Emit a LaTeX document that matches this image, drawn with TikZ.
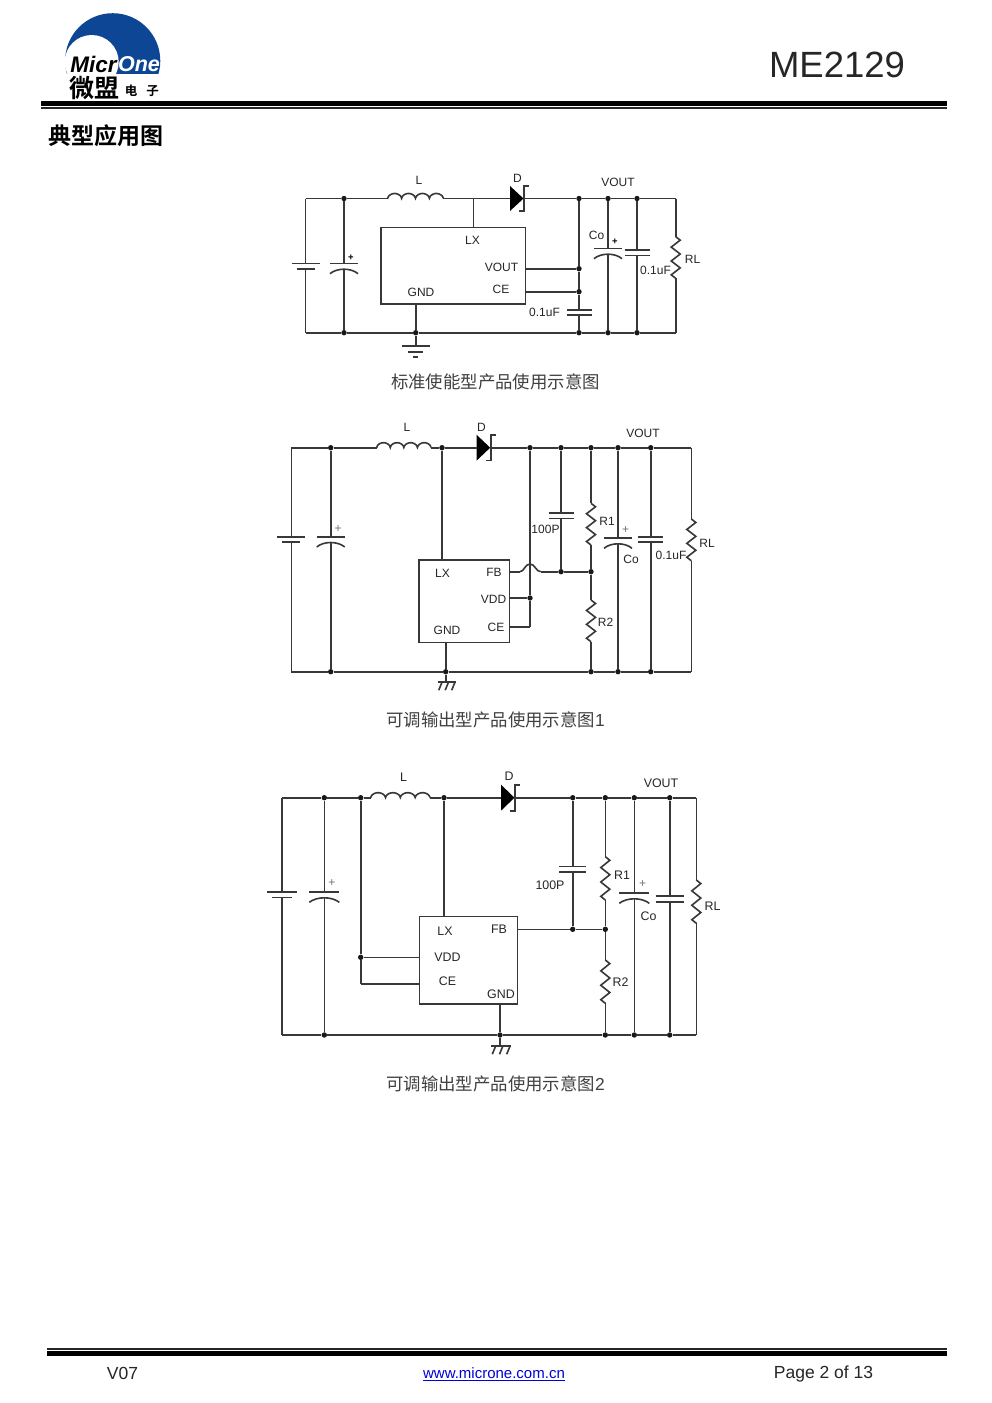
\documentclass[tikz,border=0pt]{standalone}
\usepackage{fontspec}
\setmainfont{Liberation Sans}
\newfontfamily\cjk{Noto Sans CJK SC}
\newfontfamily\cjkb{Noto Sans CJK SC Bold}
\definecolor{logoblue}{RGB}{14,70,150}
\tikzset{
  wire/.style={line width=1.6pt,black!78},
  dotmark/.style={circle,fill=black!90,inner sep=0pt,minimum size=5.4pt},
  lbl/.style={inner sep=0pt,font=\fontsize{12}{12}\selectfont,black!85},
  plusmark/.style={inner sep=0pt,font=\fontsize{12}{12}\selectfont,black!55},
  caption/.style={inner sep=0pt,font=\fontsize{17.4}{18}\selectfont\cjk,black!75},
  icbox/.style={draw,line width=1.6pt,black!78,inner sep=0pt},
}
% plain capacitor: name, x, top plate, bottom plate, half width
\newcommand{\capv}[5]{
  \coordinate(#1t) at(#2,#3);
  \coordinate(#1b) at(#2,#4);
  \draw[wire](#2-#5,#3)--(#2+#5,#3);
  \draw[wire](#2-#5,#4)--(#2+#5,#4);
}
% cell: the lower plate is shorter
\newcommand{\cell}[5]{
  \coordinate(#1t) at(#2,#3);
  \coordinate(#1b) at(#2,#4);
  \draw[wire](#2-#5,#3)--(#2+#5,#3);
  \draw[wire](#2-#5+5,#4)--(#2+#5-5,#4);
}
% polar capacitor: the lower plate is curved
\newcommand{\polar}[5]{
  \coordinate(#1t) at(#2,#3);
  \coordinate(#1b) at(#2,#4);
  \draw[wire](#2-#5,#3)--(#2+#5,#3);
  \draw[wire](#2-#5,#4+5).. controls (#2-#5/2,#4-1) and (#2+#5/2,#4-1) ..(#2+#5,#4+5);
}
% resistor: name, x, top, bottom
\newcommand{\zres}[4]{
  \pgfmathsetmacro{\rs}{(#4-#3)/12}
  \coordinate(#1t) at(#2,#3);
  \coordinate(#1b) at(#2,#4);
  \draw[wire](#1t)--++(4.5,\rs)--++(-9,2*\rs)--++(9,2*\rs)--++(-9,2*\rs)--++(9,2*\rs)--++(-9,2*\rs)--(#1b);
}
% inductor: name, left, right, y
\newcommand{\coil}[4]{
  \coordinate(#1a) at(#2,#4);
  \coordinate(#1b) at(#3,#4);
  \draw[wire] plot[domain=0:4,samples=81]({#2+\x*(#3-#2)/4},{#4-5*sqrt(abs(sin(\x*180)))});
}
% diode: name, left, y, half height
\newcommand{\diode}[4]{
  \coordinate(#1a) at(#2,#3);
  \coordinate(#1b) at(#2+14,#3);
  \fill[black](#2,#3-#4)--(#2+13.5,#3)--(#2,#3+#4)--cycle;
  \draw[wire](#2+19,#3-#4)--(#2+14,#3-#4)--(#2+14,#3+#4)--(#2+9,#3+#4);
}
% hatched earth under a point
\newcommand{\hatchgnd}[4]{
  \coordinate(#1) at(#2,#3);
  \draw[wire](#2-#4,#3)--(#2+#4,#3);
  \foreach \s in {-0.72,0,0.72}{
    \draw[wire](#2+\s*#4+2,#3)--++(-3.5,8.5);
  }
}
\begin{document}
\begin{tikzpicture}[x=1pt,y=-1pt]
  \useasboundingbox(0,0) rectangle(991,1403);
  \fill[white](0,0) rectangle(991,1403);
  % page head and foot
  \fill[black](41,101) rectangle(947,105.7);
  \fill[black!85](41,107) rectangle(947,108.6);
  \fill[black!85](47,1348.3) rectangle(947,1349.7);
  \fill[black](47,1351) rectangle(947,1355.7);
  \node[inner sep=0pt,font=\fontsize{36.5}{37}\selectfont,black!85](Title) at(837,65){ME2129};
  \node[inner sep=0pt,font=\fontsize{23}{24}\selectfont\cjkb](Head) at(105.5,135.5){典型应用图};
  \node[inner sep=0pt,font=\fontsize{17.5}{18}\selectfont,black!85](Ver) at(122.5,1373){V07};
  \node[inner sep=0pt,font=\fontsize{15}{16}\selectfont,blue!85!black](Url) at(494,1374.5){\underline{www.microne.com.cn}};
  \node[inner sep=0pt,font=\fontsize{17.5}{18}\selectfont,black!85](Page) at(823.5,1374){Page 2 of 13};
  % logo
  \begin{scope}
    \clip(60,10) rectangle(165,73);
    \fill[logoblue](112.7,60.8) circle(47.6);
    \fill[white](91.7,62) circle(27);
  \end{scope}
  \node[inner sep=0pt,font=\fontsize{22.5}{22}\selectfont\bfseries\itshape](LogoA) at(93.5,64.5){Micr};
  \node[inner sep=0pt,font=\fontsize{21.5}{22}\selectfont\bfseries\itshape,text=white](LogoB) at(139,64.5){One};
  \node[inner sep=0pt,font=\fontsize{25}{25}\selectfont\cjkb](LogoC) at(94,88.5){微盟};
  \node[inner sep=0pt,font=\fontsize{12.5}{13}\selectfont\cjkb](LogoD) at(131,91){电};
  \node[inner sep=0pt,font=\fontsize{12.5}{13}\selectfont\cjkb](LogoE) at(152.5,91){子};

  % first circuit
  \node[icbox,minimum width=144.3pt,minimum height=76.7pt](AU) at(453.2,265.7){};
  \foreach \n/\x/\y in {AT1/344/198.5,AT2/579/198.5,AT3/608/198.5,AT4/637/198.5,
    AB1/344/332.7,ABG/415.7/332.7,AB2/579/332.7,AB3/608/332.7,AB4/637/332.7,
    AJV/579/268.7,AJC/579/291.7}{
    \node[dotmark](\n) at(\x,\y){};
  }
  \foreach \n/\x/\y in {ATL/305.5/198.5,ATR/675.7/198.5,ABL/305.5/332.7,ABR/675.7/332.7,ALX/473.3/198.5,AGa/415.7/346}{
    \coordinate(\n) at(\x,\y);
  }
  \coil{AL}{387.7}{443.3}{198.5}
  \diode{AD}{510}{198.5}{12.5}
  \cell{AE}{305.5}{263.3}{268.7}{14}
  \polar{AC}{344}{263.3}{268.7}{14}
  \polar{ACo}{608}{248.3}{253.7}{14}
  \capv{AF}{637}{250}{255.3}{12.5}
  \capv{AG}{579}{309.7}{315}{12.5}
  \zres{AR}{675.7}{236.7}{278.3}
  \foreach \x/\y in {ATL/AT1,AT1/ALa,ALb/ALX,ALX/ADa,ADb/AT2,AT2/AT3,AT3/AT4,AT4/ATR,
    ABL/AB1,AB1/ABG,ABG/AB2,AB2/AB3,AB3/AB4,AB4/ABR,
    ATL/AEt,AEb/ABL,AT1/ACt,ACb/AB1,AT2/AJV,AJV/AJC,AJC/AGt,AGb/AB2,
    AT3/ACot,ACob/AB3,AT4/AFt,AFb/AB4,ATR/ARt,ARb/ABR,ABG/AGa}{
    \draw[wire](\x)--(\y);
  }
  \draw[wire](ALX)--(ALX|-AU.north);
  \draw[wire](ABG)--(ABG|-AU.south);
  \draw[wire](AJV)--(AJV-|AU.east);
  \draw[wire](AJC)--(AJC-|AU.east);
  \draw[wire](401.7,346)--(430,346);
  \draw[wire](408,351.7)--(423.4,351.7);
  \draw[wire](413,357)--(418.4,357);
  \foreach \n/\x/\y/\t in {A1/419/180/L,A2/517.5/178.5/D,A3/618/182.5/VOUT,A4/472.5/240/LX,
    A5/501.5/267.5/VOUT,A6/421/292/GND,A7/501/289.5/CE,A8/596.5/235/Co,A9/655.5/270.5/0.1uF,
    A10/692.5/259.5/RL,A11/544.5/312.5/0.1uF}{
    \node[lbl](\n) at(\x,\y){\t};
  }
  \node[plusmark,font=\fontsize{9.5}{10}\selectfont\bfseries,black](AP1) at(351,257.5){+};
  \node[plusmark,font=\fontsize{9.5}{10}\selectfont\bfseries,black](AP2) at(615,242){+};
  \node[caption](ACap) at(495.5,381.5){标准使能型产品使用示意图};

  % second circuit
  \node[icbox,minimum width=90.3pt,minimum height=82.3pt](BU) at(464.2,601.2){};
  \foreach \n/\x/\y in {BT1/330.7/447.7,BT2/442/447.7,BT3/530/447.7,BT4/561/447.7,BT5/591/447.7,BT6/618/447.7,BT7/650.7/447.7,
    BB1/330.7/671.7,BBG/445.7/671.7,BB5/591/671.7,BB6/618/671.7,BB7/650.7/671.7,
    BJF/561/571.7,BJR/591/571.7,BJV/530/598}{
    \node[dotmark](\n) at(\x,\y){};
  }
  \foreach \n/\x/\y in {BTL/291.3/447.7,BTR/691.3/447.7,BBL/291.3/671.7,BBR/691.3/671.7,
    BHa/520/571.7,BHb/540.7/571.7,BCE/530/627}{
    \coordinate(\n) at(\x,\y);
  }
  \coil{BL}{376.7}{431}{447.7}
  \diode{BD}{476.7}{447.7}{12.8}
  \cell{BE}{291.3}{537}{542}{14}
  \polar{BC}{330.7}{537}{542}{14}
  \capv{BF}{561}{512.7}{518.3}{12.5}
  \polar{BCo}{618}{538}{543.3}{14}
  \capv{BG}{650.7}{536.7}{542}{12.5}
  \zres{BR1}{591}{503.3}{545}
  \zres{BR2}{591}{600}{641.7}
  \zres{BRL}{691.3}{519}{560.7}
  \hatchgnd{BGa}{446.7}{681.7}{9}
  \foreach \x/\y in {BTL/BT1,BT1/BLa,BLb/BT2,BT2/BDa,BDb/BT3,BT3/BT4,BT4/BT5,BT5/BT6,BT6/BT7,BT7/BTR,
    BBL/BB1,BB1/BBG,BBG/BB5,BB5/BB6,BB6/BB7,BB7/BBR,
    BTL/BEt,BEb/BBL,BT1/BCt,BCb/BB1,BT3/BJV,BJV/BCE,BT4/BFt,BFb/BJF,BT5/BR1t,BR1b/BJR,BJR/BR2t,BR2b/BB5,
    BT6/BCot,BCob/BB6,BT7/BGt,BGb/BB7,BTR/BRLt,BRLb/BBR,BHb/BJF,BJF/BJR}{
    \draw[wire](\x)--(\y);
  }
  \draw[wire](BT2)--(BT2|-BU.north);
  \draw[wire](BBG)--(BBG|-BU.south);
  \draw[wire](BBG)--(BBG|-BGa);
  \draw[wire](BHa)--(BHa-|BU.east);
  \draw[wire](BJV)--(BJV-|BU.east);
  \draw[wire](BCE)--(BCE-|BU.east);
  \draw[wire](BHa).. controls (524,571.7) and (525,564) ..(530,564).. controls (535,564) and (536,571.7) ..(BHb);
  \foreach \n/\x/\y/\t in {B1/407/427/L,B2/481.5/427/D,B3/643/433.5/VOUT,B4/442.5/573.5/LX,B5/494/572/FB,
    B6/493.5/599.5/VDD,B7/447/630/GND,B8/496/627.5/CE,B9/545.5/529.5/100P,B10/607/521/R1,B11/605.5/622/R2,
    B12/631/559.5/Co,B13/671/555/0.1uF,B14/707/543.5/RL}{
    \node[lbl](\n) at(\x,\y){\t};
  }
  \node[plusmark](BP1) at(338,529.5){+};
  \node[plusmark](BP2) at(625.5,530.5){+};
  \node[caption](BCap) at(495.5,720){可调输出型产品使用示意图\rmfamily 1};

  % third circuit
  \node[icbox,minimum width=98pt,minimum height=87.7pt](CU) at(468.3,960.2){};
  \foreach \n/\x/\y in {CT1/324.3/797.7,CT2/360.7/797.7,CT3/444/797.7,CT4/572.7/797.7,CT5/605.3/797.7,CT6/634.3/797.7,CT7/669.7/797.7,
    CB1/324.3/1035,CBG/500/1035,CB5/605.3/1035,CB6/634.3/1035,CB7/669.7/1035,
    CJF/572.7/929.3,CJR/605.3/929.3,CJV/360.7/957.3}{
    \node[dotmark](\n) at(\x,\y){};
  }
  \foreach \n/\x/\y in {CTL/282/797.7,CTR/696.3/797.7,CBL/282/1035,CBR/696.3/1035,CCE/360.7/984}{
    \coordinate(\n) at(\x,\y);
  }
  \coil{CL}{370.7}{430}{797.7}
  \diode{CD}{501}{797.7}{13}
  \cell{CE}{282}{891.7}{897.3}{15}
  \polar{CC}{324.3}{891.7}{897.3}{15}
  \capv{CF}{572.7}{866.3}{872}{13.5}
  \polar{CCo}{634.3}{893}{898.3}{15}
  \capv{CG}{669.7}{896}{901.7}{14}
  \zres{CR1}{605.3}{856.7}{900}
  \zres{CR2}{605.3}{960}{1003.3}
  \zres{CRL}{696.3}{880}{923.3}
  \hatchgnd{CGa}{501}{1045.7}{10}
  \foreach \x/\y in {CTL/CT1,CT1/CT2,CT2/CLa,CLb/CT3,CT3/CDa,CDb/CT4,CT4/CT5,CT5/CT6,CT6/CT7,CT7/CTR,
    CBL/CB1,CB1/CBG,CBG/CB5,CB5/CB6,CB6/CB7,CB7/CBR,
    CTL/CEt,CEb/CBL,CT1/CCt,CCb/CB1,CT2/CJV,CJV/CCE,CT4/CFt,CFb/CJF,CT5/CR1t,CR1b/CJR,CJR/CR2t,CR2b/CB5,
    CT6/CCot,CCob/CB6,CT7/CGt,CGb/CB7,CTR/CRLt,CRLb/CBR,CJF/CJR}{
    \draw[wire](\x)--(\y);
  }
  \draw[wire](CT3)--(CT3|-CU.north);
  \draw[wire](CBG)--(CBG|-CU.south);
  \draw[wire](CBG)--(CBG|-CGa);
  \draw[wire](CJF)--(CJF-|CU.east);
  \draw[wire](CJV)--(CJV-|CU.west);
  \draw[wire](CCE)--(CCE-|CU.west);
  \foreach \n/\x/\y/\t in {C1/403.5/777/L,C2/509/776/D,C3/661/783/VOUT,C4/445/931/LX,C5/499/929.5/FB,
    C6/447.5/957.5/VDD,C7/447.5/981.5/CE,C8/501/994/GND,C9/550/885.5/100P,C10/622/875.5/R1,C11/620.5/982.5/R2,
    C12/648.5/916.5/Co,C13/712.5/906.5/RL}{
    \node[lbl,font=\fontsize{12.4}{12.4}\selectfont](\n) at(\x,\y){\t};
  }
  \node[plusmark](CP1) at(332,883.5){+};
  \node[plusmark](CP2) at(642.5,884.5){+};
  \node[caption](CCap) at(495.5,1084){可调输出型产品使用示意图\rmfamily 2};
\end{tikzpicture}
\end{document}
